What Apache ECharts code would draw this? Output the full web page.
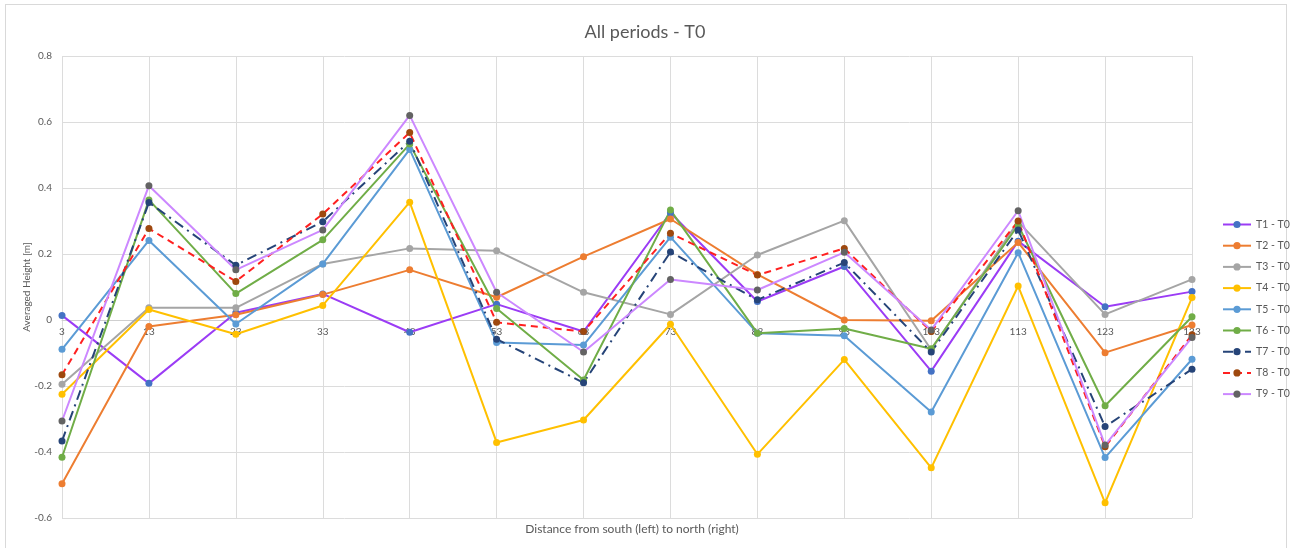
<!DOCTYPE html>
<html>
<head>
<meta charset="utf-8">
<title>All periods - T0</title>
<script src="https://cdn.jsdelivr.net/npm/echarts@6/dist/echarts.min.js"></script>
<style>
  html, body { margin: 0; padding: 0; background: #fff; }
  #frame {
    position: absolute; left: 5px; top: 4px; width: 1282px; height: 560px;
    border: 1px solid #d9d9d9; box-sizing: border-box;
  }
  #chart { position: absolute; left: 0; top: 0; width: 1290px; height: 548px; }
</style>
</head>
<body>
<div id="frame"></div>
<div id="chart"></div>
<script>
// 距离（类目）
const distances = ['3', '13', '23', '33', '43', '53', '63', '73', '83', '93', '103', '113', '123', '133'];

// 各时期相对 T0 的平均高度差 [m]
const t1 = [0.014, -0.192, 0.022, 0.079, -0.037, 0.048, -0.035, 0.325, 0.056, 0.162, -0.155, 0.239, 0.040, 0.086];
const t2 = [-0.496, -0.020, 0.016, 0.077, 0.152, 0.069, 0.192, 0.306, 0.138, 0.000, -0.002, 0.235, -0.099, -0.015];
const t3 = [-0.195, 0.037, 0.037, 0.170, 0.217, 0.210, 0.084, 0.017, 0.197, 0.301, -0.090, 0.298, 0.017, 0.123];
const t4 = [-0.225, 0.032, -0.043, 0.044, 0.357, -0.371, -0.303, -0.013, -0.407, -0.120, -0.448, 0.103, -0.554, 0.068];
const t5 = [-0.089, 0.241, -0.012, 0.170, 0.517, -0.068, -0.076, 0.251, -0.040, -0.048, -0.279, 0.204, -0.417, -0.119];
const t6 = [-0.416, 0.364, 0.080, 0.243, 0.533, 0.035, -0.182, 0.333, -0.040, -0.026, -0.087, 0.288, -0.260, 0.010];
const t7 = [-0.367, 0.356, 0.166, 0.298, 0.542, -0.058, -0.190, 0.206, 0.061, 0.174, -0.097, 0.273, -0.323, -0.149];
const t8 = [-0.166, 0.277, 0.117, 0.321, 0.568, -0.007, -0.035, 0.263, 0.136, 0.217, -0.035, 0.300, -0.384, -0.045];
const t9 = [-0.306, 0.407, 0.152, 0.273, 0.620, 0.084, -0.097, 0.123, 0.091, 0.205, -0.030, 0.331, -0.379, -0.053];

const yTicks = { min: -0.6, max: 0.8, step: 0.2 };

const font = 'Lato, "Open Sans", sans-serif';
const grey = '#595959';

// 生成一条折线
function makeLine(name, data, lineColor, dotColor, dash) {
  return {
    name: name,
    type: 'line',
    data: data,
    xAxisIndex: 0,
    symbol: 'circle',
    symbolSize: 7,
    showSymbol: true,
    itemStyle: { color: dotColor },
    lineStyle: { color: lineColor, width: 2, type: dash || 'solid' },
    emphasis: { disabled: true }
  };
}

// 零线位置：绘图区高 462px，0 到底部 -0.6 占 3/7
const plotH = 462;
const zeroOffset = -plotH * (0 - yTicks.min) / (yTicks.max - yTicks.min);

let myChart = echarts.init(document.getElementById('chart'));
myChart.setOption({
  animation: false,
  textStyle: { fontFamily: font },
  title: [
    {
      text: 'All periods - T0',
      left: 'center',
      top: 18,
      textStyle: { fontSize: 18, fontWeight: 'normal', color: grey, fontFamily: font }
    },
    {
      text: 'Distance from south (left) to north (right)',
      left: 627,
      textAlign: 'center',
      top: 518,
      textStyle: { fontSize: 12, fontWeight: 'normal', color: grey, fontFamily: font }
    }
  ],
  legend: {
    orient: 'vertical',
    left: 1217,
    top: 214,
    itemWidth: 28,
    itemHeight: 9,
    itemGap: 10.2,
    textStyle: { fontSize: 10.5, color: grey, fontFamily: font },
    data: ['T1 - T0', 'T2 - T0', 'T3 - T0', 'T4 - T0', 'T5 - T0', 'T6 - T0', 'T7 - T0', 'T8 - T0', 'T9 - T0']
  },
  grid: { left: 62, right: 98, top: 56, bottom: 30, containLabel: false },
  xAxis: [
    {
      // 网格竖线
      type: 'category',
      data: distances,
      boundaryGap: false,
      axisLine: { show: false },
      axisTick: { show: false },
      axisLabel: { show: false },
      splitLine: { show: true, lineStyle: { color: '#dcdcdc', width: 1 } }
    },
    {
      // 贴在 0 线上的类目轴
      type: 'category',
      data: distances,
      boundaryGap: false,
      position: 'bottom',
      offset: zeroOffset,
      axisLine: { onZero: false, lineStyle: { color: '#cfcfcf', width: 1 } },
      axisTick: { show: false },
      axisLabel: { color: grey, fontSize: 10, margin: 7, fontFamily: font },
      splitLine: { show: false }
    }
  ],
  yAxis: {
    type: 'value',
    min: yTicks.min,
    max: yTicks.max,
    interval: yTicks.step,
    name: 'Averaged Height [m]',
    nameLocation: 'middle',
    nameGap: 30,
    nameRotate: 90,
    nameMoveOverlap: false,
    nameTextStyle: { color: grey, fontSize: 10, fontFamily: font },
    axisLine: { show: false },
    axisTick: { show: false },
    axisLabel: {
      color: grey, fontSize: 10, margin: 10, fontFamily: font,
      formatter: function (v) { return Math.abs(v) < 1e-9 ? '0' : v.toFixed(1); }
    },
    splitLine: { lineStyle: { color: '#dcdcdc', width: 1 } }
  },
  series: [
    makeLine('T1 - T0', t1, '#9b3cf5', '#4472c4'),
    makeLine('T2 - T0', t2, '#ed7d31', '#ed7d31'),
    makeLine('T3 - T0', t3, '#a5a5a5', '#a5a5a5'),
    makeLine('T4 - T0', t4, '#ffc000', '#ffc000'),
    makeLine('T5 - T0', t5, '#5b9bd5', '#5b9bd5'),
    makeLine('T6 - T0', t6, '#70ad47', '#70ad47'),
    makeLine('T7 - T0', t7, '#264478', '#264478', [10, 5, 2, 5]),
    makeLine('T8 - T0', t8, '#ff2020', '#9e480e', [7, 5]),
    makeLine('T9 - T0', t9, '#cc88ff', '#636363')
  ]
});
</script>
</body>
</html>
